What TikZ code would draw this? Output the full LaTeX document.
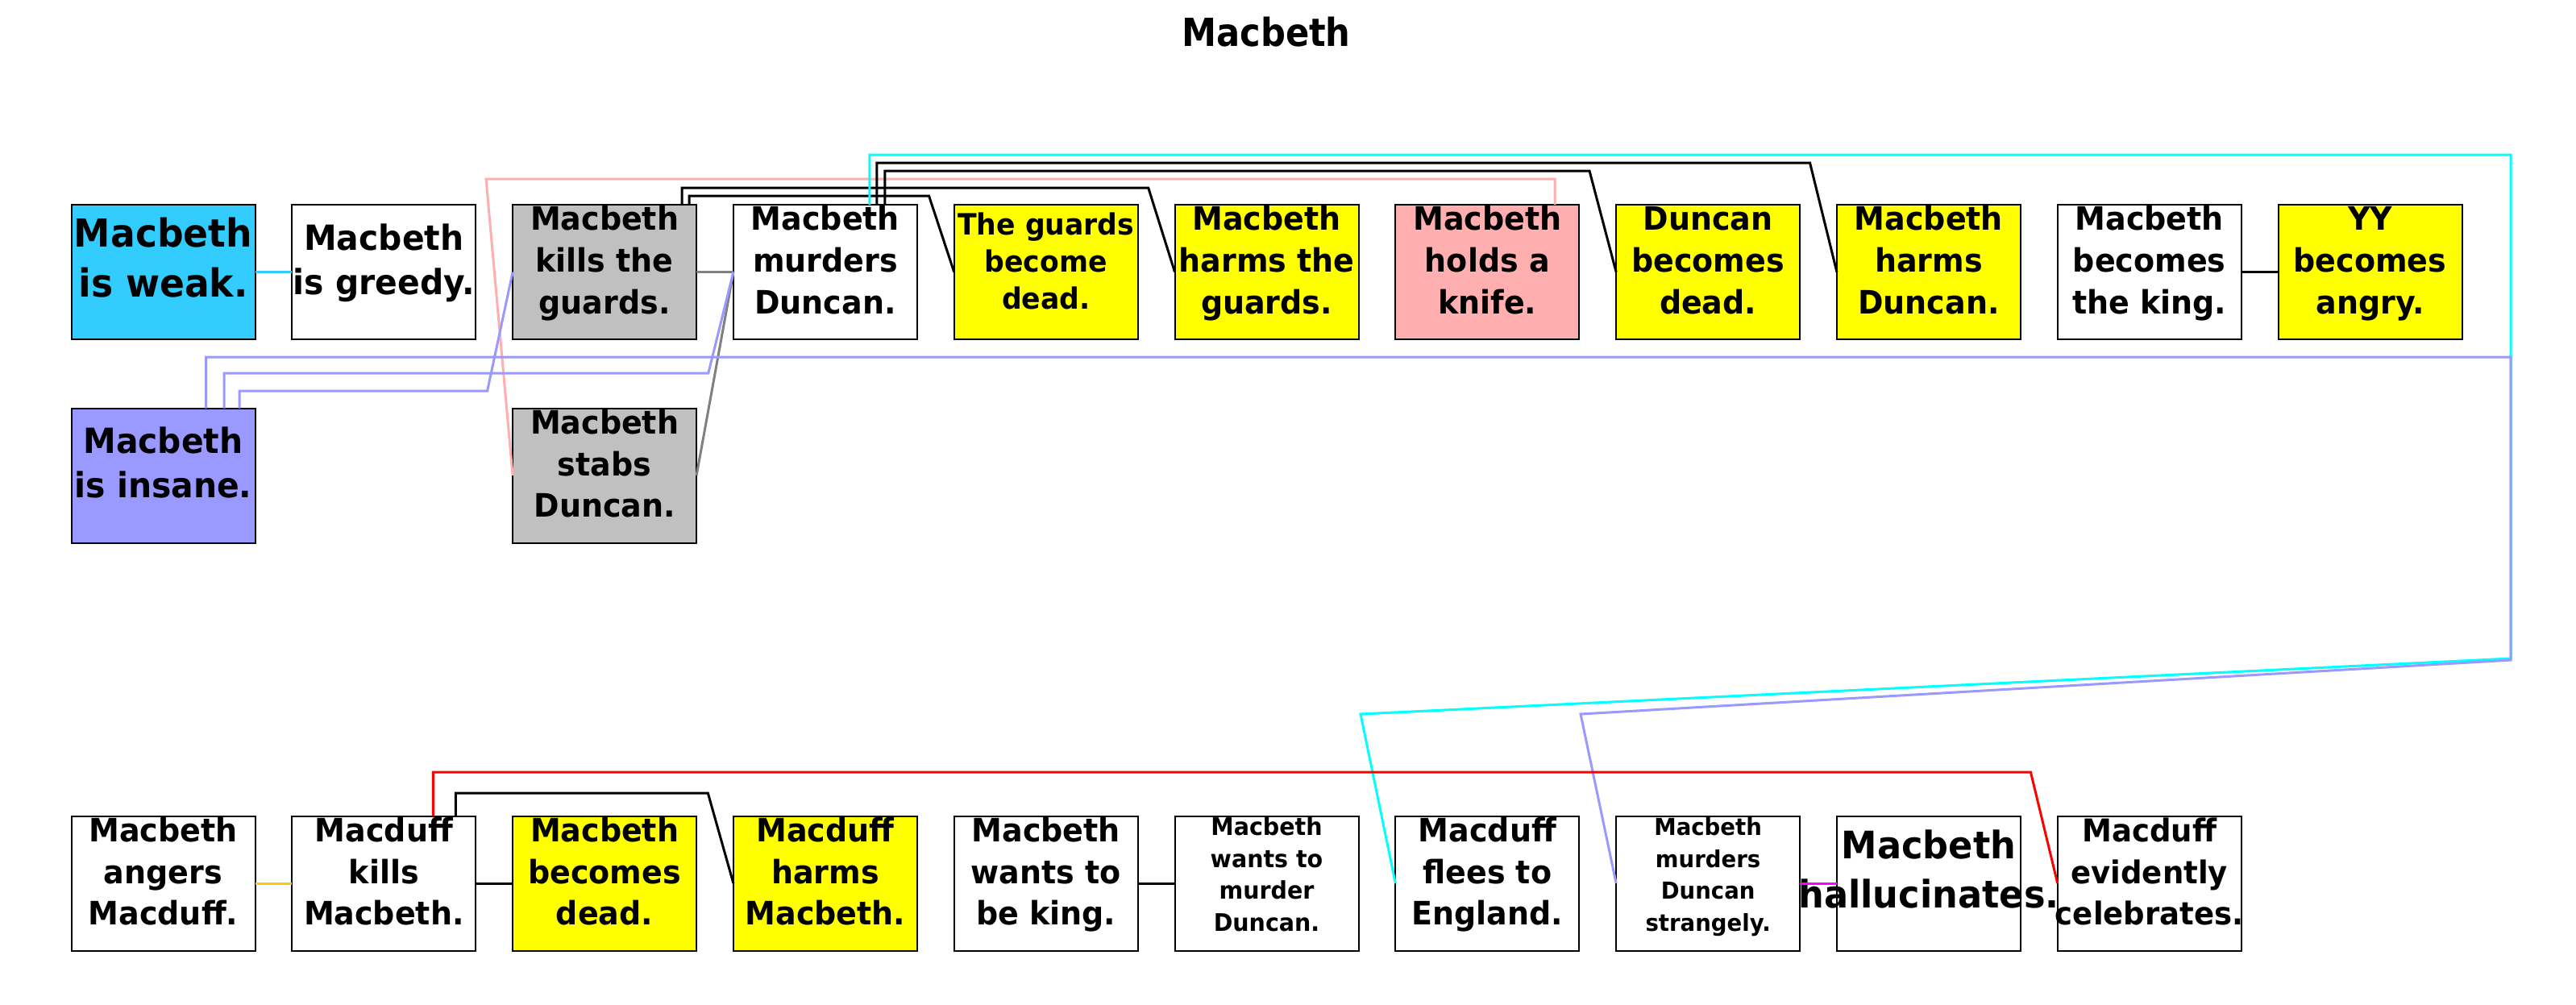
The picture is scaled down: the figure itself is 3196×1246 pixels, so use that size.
\documentclass[tikz,border=0pt]{standalone}
\usepackage{fontspec}
\newfontfamily\bxf{DejaVu Sans}[FakeStretch=0.95]
\newfontfamily\ttlf{DejaVu Sans}[FakeStretch=0.9]
\usetikzlibrary{calc}
\newcommand\zs{\rule[-0.8em]{0pt}{1.6em}}
\newcommand\nolsl{\lineskiplimit=-\maxdimen}
\definecolor{skyB}{RGB}{51,204,255}
\definecolor{lavB}{RGB}{153,153,255}
\definecolor{greyB}{RGB}{192,192,192}
\definecolor{greyL}{RGB}{128,128,128}
\definecolor{pinkB}{RGB}{255,175,175}
\definecolor{yelB}{RGB}{255,255,0}
\definecolor{cyanL}{RGB}{0,255,255}
\definecolor{orangeL}{RGB}{255,200,0}
\definecolor{magL}{RGB}{255,0,255}
\definecolor{redL}{RGB}{255,0,0}
\tikzset{
  box/.style={draw=black, line width=0.5pt, minimum width=57pt, minimum height=41.75pt, inner sep=0pt, outer sep=0pt},
  tx/.style 2 args={align=center, inner sep=0pt, font={\bxf\bfseries\fontsize{#1}{#2}\selectfont\nolsl}},
  conn/.style={line width=0.75pt},
}
\begin{document}
\begin{tikzpicture}[x=0.25pt,y=-0.25pt]
\useasboundingbox (0,0) rectangle (3196,1246);
\fill[white] (0,0) rectangle (3196,1246);

\node[anchor=base, inner sep=0pt, font={\ttlf\bfseries\fontsize{12pt}{14pt}\selectfont}] (title) at (1571,57) {Macbeth};

% row 1
\node[box,fill=skyB]  (weak)    at ({202.5+273.8*0},337.5) {};
\node[box,fill=white] (greedy)  at ({202.5+273.8*1},337.5) {};
\node[box,fill=greyB] (kills)   at ({202.5+273.8*2},337.5) {};
\node[box,fill=white] (murders) at ({202.5+273.8*3},337.5) {};
\node[box,fill=yelB]  (gdead)   at ({202.5+273.8*4},337.5) {};
\node[box,fill=yelB]  (harmsg)  at ({202.5+273.8*5},337.5) {};
\node[box,fill=pinkB] (holds)   at ({202.5+273.8*6},337.5) {};
\node[box,fill=yelB]  (ddead)   at ({202.5+273.8*7},337.5) {};
\node[box,fill=yelB]  (harmsd)  at ({202.5+273.8*8},337.5) {};
\node[box,fill=white] (king)    at ({202.5+273.8*9},337.5) {};
\node[box,fill=yelB]  (yy)      at ({202.5+273.8*10},337.5) {};
% row 2
\node[box,fill=lavB]  (insane)  at ({202.5+273.8*0},590) {};
\node[box,fill=greyB] (stabs)   at ({202.5+273.8*2},590) {};
% row 3
\node[box,fill=white] (angers)  at ({202.5+273.8*0},1096) {};
\node[box,fill=white] (kmac)    at ({202.5+273.8*1},1096) {};
\node[box,fill=yelB]  (mdead)   at ({202.5+273.8*2},1096) {};
\node[box,fill=yelB]  (harmsm)  at ({202.5+273.8*3},1096) {};
\node[box,fill=white] (wking)   at ({202.5+273.8*4},1096) {};
\node[box,fill=white] (wmurder) at ({202.5+273.8*5},1096) {};
\node[box,fill=white] (flees)   at ({202.5+273.8*6},1096) {};
\node[box,fill=white] (strange) at ({202.5+273.8*7},1096) {};
\node[box,fill=white] (halluc)  at ({202.5+273.8*8},1096) {};
\node[box,fill=white] (celeb)   at ({202.5+273.8*9},1096) {};

% texts
\node[tx={12pt}{15.4pt}]    (weak-t)    at (weak)    {\zs Macbeth\\\zs is weak.};
\node[tx={10.75pt}{13.75pt}] (greedy-t) at (greedy)  {\zs Macbeth\\\zs is greedy.};
\node[tx={10pt}{12.93pt}]   (kills-t)   at (kills)   {\zs Macbeth\\\zs kills the\\\zs guards.};
\node[tx={10pt}{12.93pt}]   (murders-t) at (murders) {\zs Macbeth\\\zs murders\\\zs Duncan.};
\node[tx={9.1pt}{11.4pt}]   (gdead-t)   at (gdead)   {\zs The guards\\\zs become\\\zs dead.};
\node[tx={10pt}{12.93pt}]   (harmsg-t)  at (harmsg)  {\zs Macbeth\\\zs harms the\\\zs guards.};
\node[tx={10pt}{12.93pt}]   (holds-t)   at (holds)   {\zs Macbeth\\\zs holds a\\\zs knife.};
\node[tx={10pt}{12.93pt}]   (ddead-t)   at (ddead)   {\zs Duncan\\\zs becomes\\\zs dead.};
\node[tx={10pt}{12.93pt}]   (harmsd-t)  at (harmsd)  {\zs Macbeth\\\zs harms\\\zs Duncan.};
\node[tx={10pt}{12.93pt}]   (king-t)    at (king)    {\zs Macbeth\\\zs becomes\\\zs the king.};
\node[tx={10pt}{12.93pt}]   (yy-t)      at (yy)      {\zs YY\\\zs becomes\\\zs angry.};
\node[tx={10.75pt}{13.75pt}] (insane-t) at (insane)  {\zs Macbeth\\\zs is insane.};
\node[tx={10pt}{12.93pt}]   (stabs-t)   at (stabs)   {\zs Macbeth\\\zs stabs\\\zs Duncan.};
\node[tx={10pt}{12.93pt}]   (angers-t)  at (angers)  {\zs Macbeth\\\zs angers\\\zs Macduff.};
\node[tx={10pt}{12.93pt}]   (kmac-t)    at (kmac)    {\zs Macduff\\\zs kills\\\zs Macbeth.};
\node[tx={10pt}{12.93pt}]   (mdead-t)   at (mdead)   {\zs Macbeth\\\zs becomes\\\zs dead.};
\node[tx={10pt}{12.93pt}]   (harmsm-t)  at (harmsm)  {\zs Macduff\\\zs harms\\\zs Macbeth.};
\node[tx={10pt}{12.93pt}]   (wking-t)   at (wking)   {\zs Macbeth\\\zs wants to\\\zs be king.};
\node[tx={7.5pt}{9.95pt}]   (wmurder-t) at (wmurder) {\zs Macbeth\\\zs wants to\\\zs murder\\\zs Duncan.};
\node[tx={10pt}{12.93pt}]   (flees-t)   at (flees)   {\zs Macduff\\\zs flees to\\\zs England.};
\node[tx={7.25pt}{9.95pt}]  (strange-t) at (strange) {\zs Macbeth\\\zs murders\\\zs Duncan\\\zs strangely.};
\node[tx={11.75pt}{15.2pt}] (halluc-t)  at (halluc)  {\zs Macbeth\\\zs hallucinates.};
\node[tx={9.75pt}{12.93pt}] (celeb-t)   at (celeb)   {\zs Macduff\\\zs evidently\\\zs celebrates.};

% short connectors
\draw[conn,draw=skyB]    (weak.east) -- (greedy.west);
\draw[conn,draw=greyL]   (kills.east) -- (murders.west);
\draw[conn]              (king.east) -- (yy.west);
\draw[conn,draw=orangeL] (angers.east) -- (kmac.west);
\draw[conn]              (kmac.east) -- (mdead.west);
\draw[conn]              (wking.east) -- (wmurder.west);
\draw[conn,draw=magL]    (strange.east) -- (halluc.west);
\draw[conn,draw=greyL]   (stabs.east) -- (murders.west);

% routed connectors
\draw[conn,draw=pinkB] ($(holds.north)+(83.7,0)$) |- (603,222) -- (stabs.west);
\draw[conn] ($(kills.north)+(96,0)$) |- (1424.7,233) -- (harmsg.west);
\draw[conn] ($(kills.north)+(105,0)$) |- (1152.5,243) -- (gdead.west);
\draw[conn,draw=cyanL] ($(murders.north)+(55,0)$) |- (3115,192) -- (3115,817) -- (1688,886) -- (flees.west);
\draw[conn] ($(murders.north)+(64,0)$) |- (2245.5,202) -- (harmsd.west);
\draw[conn] ($(murders.north)+(74,0)$) |- (1972,212) -- (ddead.west);
\draw[conn,draw=lavB] ($(insane.north)+(94.5,0)$) |- (604.6,485) -- (kills.west);
\draw[conn,draw=lavB] ($(insane.north)+(75.5,0)$) |- (878.8,463) -- (murders.west);
\draw[conn,draw=lavB] ($(insane.north)+(53.2,0)$) |- (3115,443) -- (3115,819) -- (1961,886) -- (strange.west);
\draw[conn] ($(kmac.north)+(89,0)$) |- (878.3,984) -- (harmsm.west);
\draw[conn,draw=redL] ($(kmac.north)+(61,0)$) |- (2519.4,958) -- (celeb.west);
\end{tikzpicture}
\end{document}
